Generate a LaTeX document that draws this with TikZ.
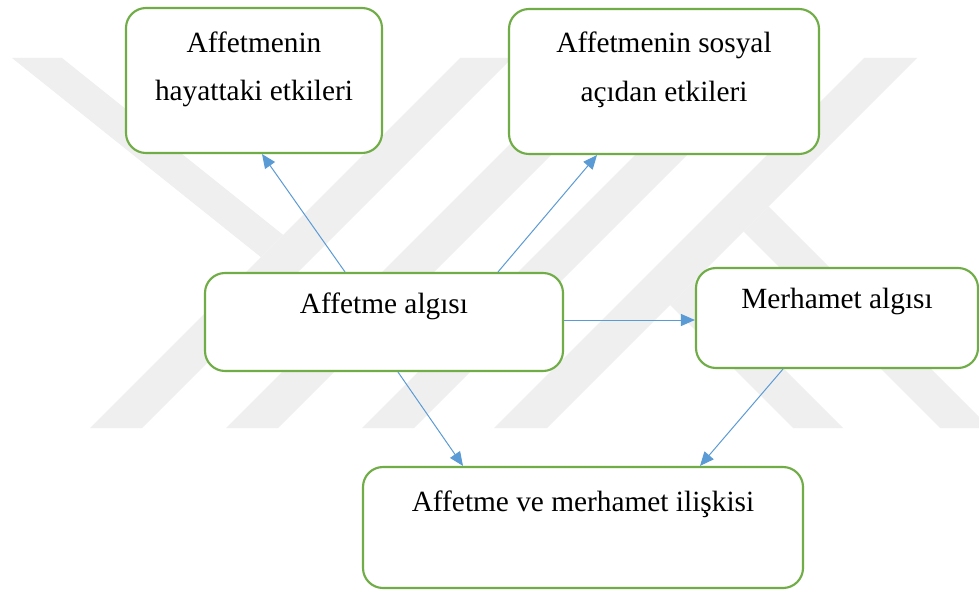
\documentclass[tikz,border=0pt]{standalone}
\usepackage{fontspec}
\setmainfont{Liberation Serif}
\usetikzlibrary{arrows.meta,calc}
\definecolor{boxgreen}{HTML}{70AD47}
\definecolor{arrowblue}{HTML}{5B9BD5}
\definecolor{bandgray}{RGB}{239,239,239}

\begin{document}
\begin{tikzpicture}[x=0.75pt,y=-0.75pt,
  card/.style={draw=boxgreen, line width=1.6pt, rounded corners=15pt, fill=white, inner sep=0pt},
  caption/.style={anchor=base, font=\fontsize{22}{36}\selectfont, inner sep=0pt},
  link/.style={draw=arrowblue, line width=0.75pt, -{Triangle[length=10.5pt,width=9pt]}},
  wmband/.style={fill=bandgray, draw=none}]

% page frame
\useasboundingbox (0,0) rectangle (979,592);
\fill[white] (0,0) rectangle (979,592);

% background emblem made of diagonal bands
\fill[wmband] (90,428) -- (142,428) -- (512,58) -- (460,58) -- cycle;
\fill[wmband] (226,428) -- (278,428) -- (648,58) -- (596,58) -- cycle;
\fill[wmband] (362,428) -- (414,428) -- (784,58) -- (732,58) -- cycle;
\fill[wmband] (494,428) -- (547,428) -- (917,58) -- (864,58) -- cycle;
\fill[wmband] (12,58) -- (62,58) -- (283.1,234.9) -- (260.9,257.1) -- cycle;
\fill[wmband] (793,428) -- (843,428) -- (695,280) -- (670,305) -- cycle;
\fill[wmband] (940,428) -- (990,428) -- (768.5,206.5) -- (743.5,231.5) -- cycle;

% boxes
\node[card, minimum width=192pt, minimum height=108.75pt] (hay) at (254,80.5) {};
\node[card, minimum width=232.5pt, minimum height=108.75pt] (sos) at (664,81.5) {};
\node[card, minimum width=268.5pt, minimum height=73.5pt] (alg) at (384,322) {};
\node[card, minimum width=211.5pt, minimum height=75pt] (mer) at (837,318) {};
\node[card, minimum width=330pt, minimum height=90.75pt] (ili) at (583,527.5) {};

% texts
\node[caption] (hayA) at ($(hay.north)+(0,46)$) {Affetmenin};
\node[caption] (hayB) at ($(hay.north)+(0,94)$) {hayattaki etkileri};
\node[caption] (sosA) at ($(sos.north)+(0,45)$) {Affetmenin sosyal};
\node[caption] (sosB) at ($(sos.north)+(0,94)$) {açıdan etkileri};
\node[caption] (algA) at ($(alg.north)+(0,42)$) {Affetme algısı};
\node[caption] (merA) at ($(mer.north)+(0,42)$) {Merhamet algısı};
\node[caption] (iliA) at ($(ili.north)+(0,46)$) {Affetme ve merhamet ilişkisi};

% connectors
\draw[link] ($(alg.north)+(-39,0)$) -- ($(hay.south)+(8,0)$);
\draw[link] ($(alg.north)+(114,0)$) -- ($(sos.south)+(-67,0)$);
\draw[link] ($(alg.east)+(0,-2)$) -- ($(mer.west)+(0,2)$);
\draw[link] ($(alg.south)+(14,0)$) -- ($(ili.north)+(-120,0)$);
\draw[link] ($(mer.south)+(-54,0)$) -- ($(ili.north)+(117,0)$);
\end{tikzpicture}
\end{document}
